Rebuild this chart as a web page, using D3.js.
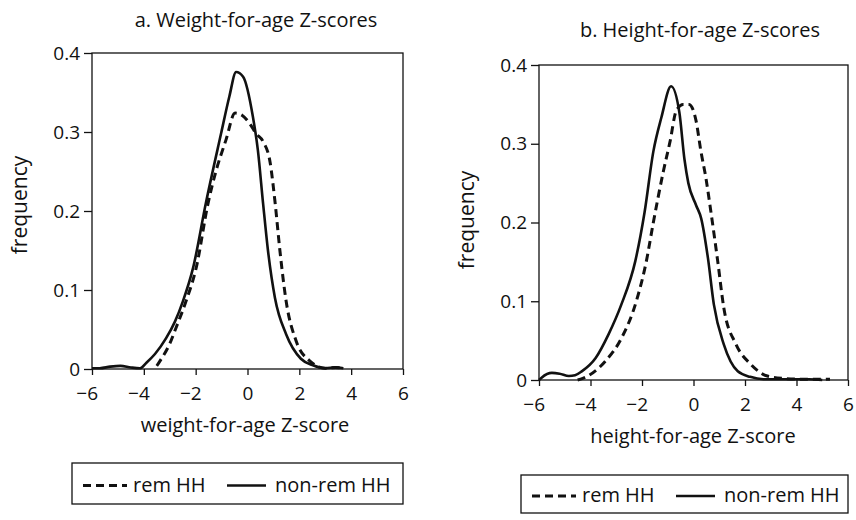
<!DOCTYPE html>
<html>
<head>
<meta charset="utf-8">
<script src="https://cdn.jsdelivr.net/npm/d3@7"></script>
<style>
    body { margin: 0; background: #fff; }
    svg { font-family: "Open Sans", sans-serif; fill: #111; }
    .axis path, .axis line { stroke: #111; stroke-width: 1.3; }
</style>
</head>
<body>
<div id="chart"></div>
<script>
// z-score, frequency pairs
const wazRem = [[-3.5, 0.004], [-3.38, 0.01], [-3.0, 0.032], [-2.76, 0.052], [-2.37, 0.086], [-1.98, 0.128],
    [-1.52, 0.21], [-1.22, 0.25], [-0.83, 0.29], [-0.48, 0.324], [-0.2, 0.321], [0.1, 0.31], [0.33, 0.298],
    [0.6, 0.288], [0.87, 0.262], [1.06, 0.212], [1.25, 0.15], [1.49, 0.086], [1.87, 0.036], [2.41, 0.01],
    [3.0, 0.001], [3.4, 0.002], [3.7, 0.001]];
const wazNonRem = [[-6, 0.001], [-5.7, 0.001], [-5.3, 0.003], [-4.9, 0.004], [-4.5, 0.002], [-4.15, 0.001],
    [-3.9, 0.008], [-3.57, 0.019], [-3.14, 0.039], [-2.8, 0.06], [-2.49, 0.086], [-2.1, 0.128], [-1.6, 0.211],
    [-1.02, 0.298], [-0.7, 0.345], [-0.44, 0.376], [-0.17, 0.37], [0.21, 0.319], [0.4, 0.277], [0.6, 0.21],
    [0.79, 0.15], [1.06, 0.09], [1.49, 0.044], [2.06, 0.013], [2.5, 0.005], [3.0, 0.001], [3.4, 0.002], [3.7, 0.001]];

const hazRem = [[-4.5, 0.0], [-4.3, 0.002], [-3.42, 0.024], [-2.8, 0.053], [-2.22, 0.1], [-1.83, 0.151],
    [-1.56, 0.2], [-1.17, 0.265], [-0.91, 0.303], [-0.67, 0.342], [-0.4, 0.35], [-0.17, 0.35], [0.1, 0.329],
    [0.29, 0.29], [0.48, 0.257], [0.67, 0.215], [0.94, 0.151], [1.18, 0.091], [1.64, 0.046], [2.22, 0.02],
    [2.87, 0.005], [3.5, 0.002], [4.2, 0.001], [5.3, 0.001]];
const hazNonRem = [[-6, 0.0], [-5.9, 0.003], [-5.5, 0.009], [-5.2, 0.008], [-4.84, 0.005], [-4.6, 0.006],
    [-4.34, 0.011], [-3.8, 0.028], [-3.3, 0.058], [-2.8, 0.096], [-2.26, 0.151], [-1.9, 0.213], [-1.56, 0.29],
    [-1.25, 0.333], [-0.87, 0.373], [-0.55, 0.34], [-0.35, 0.28], [-0.2, 0.25], [0.1, 0.222], [0.3, 0.205],
    [0.56, 0.155], [0.79, 0.096], [1.18, 0.045], [1.72, 0.011], [2.2, 0.004], [2.72, 0.001], [3.5, 0.001],
    [4.5, 0.001], [5.0, 0.0]];

const xTicks = [-6, -4, -2, 0, 2, 4, 6];
const yTicks = [0, 0.1, 0.2, 0.3, 0.4];
const legendLabels = ["rem HH", "non-rem HH"];

const svg = d3.select("#chart").append("svg")
    .attr("width", 856)
    .attr("height", 520);

class DensityPanel {

    constructor(svg, opts) {
        const vis = this;
        vis.svg = svg;
        vis.opts = opts;
        vis.initVis();
    }

    initVis() {
        const vis = this;
        const o = vis.opts;

        vis.x = d3.scaleLinear().domain([-6, 6]).range([o.left, o.right]);
        vis.y = d3.scaleLinear().domain([0, 0.4]).range([o.bottom, o.top]);

        vis.g = vis.svg.append("g");

        // frame
        vis.g.append("rect")
            .attr("x", o.left).attr("y", o.top)
            .attr("width", o.right - o.left).attr("height", o.bottom - o.top)
            .attr("fill", "none").attr("stroke", "#111").attr("stroke-width", 1.3);

        vis.g.append("g")
            .attr("class", "axis")
            .attr("transform", "translate(0," + o.bottom + ")")
            .call(d3.axisBottom(vis.x).tickValues(xTicks).tickSize(6).tickPadding(12)
                .tickFormat(d => d < 0 ? "\u2212" + Math.abs(d) : d))
            .call(g => g.select(".domain").remove())
            .call(g => g.selectAll("text")
                .attr("font-family", "Open Sans").attr("font-size", 19).attr("fill", "#111")
                // keep the digit on the tick, minus sign hangs to the left
                .attr("text-anchor", d => d < 0 ? "end" : "middle")
                .attr("dx", d => d < 0 ? "0.29em" : 0));

        vis.g.append("g")
            .attr("class", "axis")
            .attr("transform", "translate(" + o.left + ",0)")
            .call(d3.axisLeft(vis.y).tickValues(yTicks).tickSize(8).tickPadding(4)
                .tickFormat(d => d === 0 ? "0" : d3.format(".1f")(d)))
            .call(g => g.select(".domain").remove())
            .call(g => g.selectAll("text")
                .attr("font-family", "Open Sans").attr("font-size", 19).attr("fill", "#111"));

        vis.g.append("text")
            .attr("x", o.titleX).attr("y", o.titleY)
            .attr("text-anchor", "middle")
            .attr("font-size", 20)
            .text(o.title);

        vis.g.append("text")
            .attr("x", o.xLabelX).attr("y", o.bottom + 63)
            .attr("text-anchor", "middle")
            .attr("font-size", 20)
            .text(o.xLabel);

        vis.g.append("text")
            .attr("transform", "translate(" + o.yLabelX + "," + o.yLabelY + ") rotate(-90)")
            .attr("text-anchor", "middle")
            .attr("font-size", 21)
            .text("frequency");

        const line = d3.line()
            .x(d => vis.x(d[0]))
            .y(d => vis.y(d[1]))
            .curve(d3.curveMonotoneX);

        vis.g.append("path")
            .datum(o.nonRem)
            .attr("d", line)
            .attr("fill", "none")
            .attr("stroke", "#111")
            .attr("stroke-width", 2.6);

        vis.g.append("path")
            .datum(o.rem)
            .attr("d", line)
            .attr("fill", "none")
            .attr("stroke", "#111")
            .attr("stroke-width", 3)
            .attr("stroke-dasharray", "8,5");

        vis.drawLegend();
    }

    drawLegend() {
        const vis = this;
        const L = vis.opts.legend;

        const lg = vis.g.append("g").attr("transform", "translate(" + L.x + "," + L.y + ")");
        lg.append("rect")
            .attr("width", L.w).attr("height", L.h)
            .attr("fill", "none").attr("stroke", "#111").attr("stroke-width", 1.3);

        const cy = L.h / 2 + 2;
        lg.append("line")
            .attr("x1", 11).attr("x2", 55).attr("y1", cy).attr("y2", cy)
            .attr("stroke", "#111").attr("stroke-width", 3).attr("stroke-dasharray", "8,5");
        lg.append("text")
            .attr("x", 61).attr("y", cy + 6)
            .attr("font-size", 20)
            .text(legendLabels[0]);

        lg.append("line")
            .attr("x1", 155).attr("x2", 194).attr("y1", cy).attr("y2", cy)
            .attr("stroke", "#111").attr("stroke-width", 2.6);
        lg.append("text")
            .attr("x", 203).attr("y", cy + 6)
            .attr("font-size", 20)
            .text(legendLabels[1]);
    }
}

new DensityPanel(svg, {
    left: 92, right: 403, top: 53, bottom: 369,
    title: "a. Weight-for-age Z-scores", titleX: 256, titleY: 27,
    xLabel: "weight-for-age Z-score", xLabelX: 245,
    yLabelX: 27, yLabelY: 205,
    rem: wazRem, nonRem: wazNonRem,
    legend: {x: 72, y: 463, w: 331, h: 41}
});

new DensityPanel(svg, {
    left: 539, right: 848, top: 65, bottom: 380,
    title: "b. Height-for-age Z-scores", titleX: 700, titleY: 37,
    xLabel: "height-for-age Z-score", xLabelX: 693,
    yLabelX: 474, yLabelY: 220,
    rem: hazRem, nonRem: hazNonRem,
    legend: {x: 521, y: 475, w: 327, h: 38}
});
</script>
</body>
</html>
